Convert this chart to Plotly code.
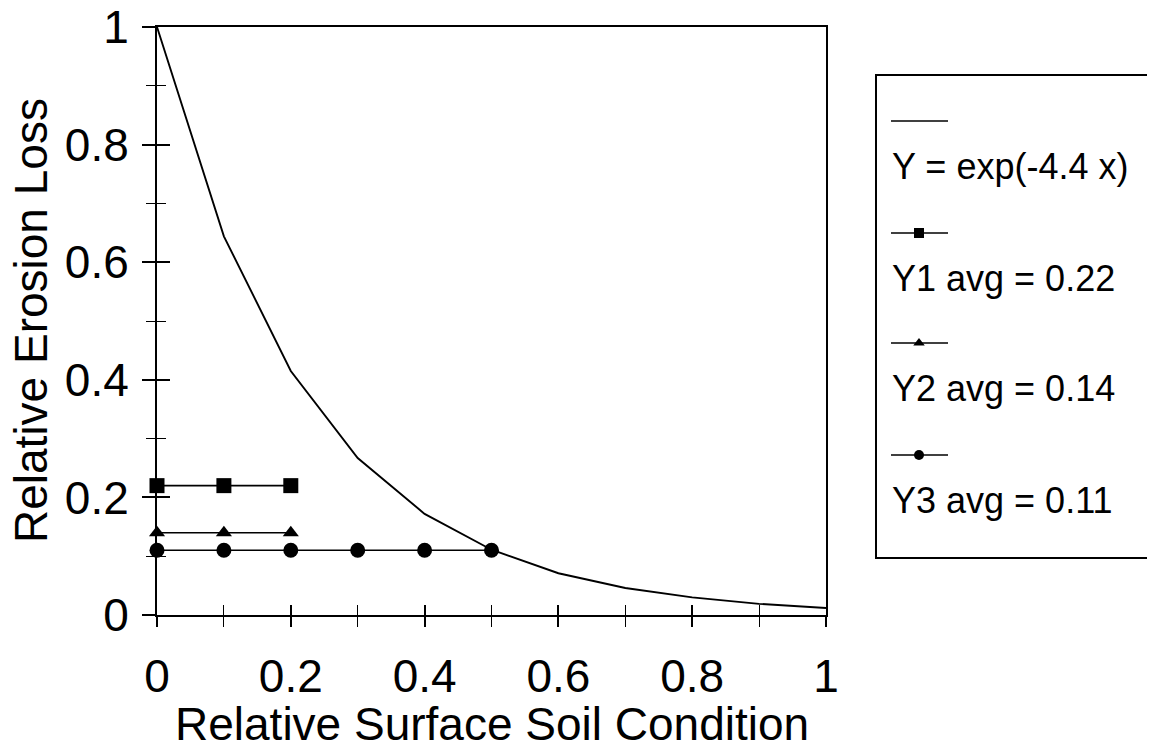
import plotly.graph_objects as go

# ---- data ----
curve_x = [0, 0.1, 0.2, 0.3, 0.4, 0.5, 0.6, 0.7, 0.8, 0.9, 1.0]
curve_y = [1.0, 0.644, 0.415, 0.267, 0.172, 0.111, 0.071, 0.046, 0.030, 0.019, 0.012]
y1_x = [0, 0.1, 0.2]
y1_y = [0.22, 0.22, 0.22]
y2_x = [0, 0.1, 0.2]
y2_y = [0.14, 0.14, 0.14]
y3_x = [0, 0.1, 0.2, 0.3, 0.4, 0.5]
y3_y = [0.11, 0.11, 0.11, 0.11, 0.11, 0.11]
series_names = ["Y = exp(-4.4 x)", "Y1 avg = 0.22", "Y2 avg = 0.14", "Y3 avg = 0.11"]
series_symbols = [None, "square", "triangle-up", "circle"]
x_title = "Relative Surface Soil Condition"
y_title = "Relative Erosion Loss"

FONT = "Liberation Sans, Arial, sans-serif"
OFF = 8                      # page body margin of the browser
W, H = 1155 - OFF, 752 - OFF
L, R, T = 157 - OFF, 0, 27 - OFF
B = H - (615 - OFF)
PW = W - L - R
PH = H - T - B
plot_right = 826 - OFF
main_dom = [0, (plot_right - L) / PW]

fig = go.Figure()

fig.add_trace(go.Scatter(x=curve_x, y=curve_y, mode="lines",
                         line=dict(color="black", width=1.9), cliponaxis=False,
                         showlegend=False))
fig.add_trace(go.Scatter(x=y1_x, y=y1_y, mode="lines+markers",
                         line=dict(color="black", width=1.6),
                         marker=dict(symbol="square", size=15, color="black"),
                         cliponaxis=False, showlegend=False))
fig.add_trace(go.Scatter(x=y2_x, y=y2_y, mode="lines+markers",
                         line=dict(color="black", width=1.6),
                         marker=dict(symbol="triangle-up", size=14, color="black"),
                         cliponaxis=False, showlegend=False))
fig.add_trace(go.Scatter(x=y3_x, y=y3_y, mode="lines+markers",
                         line=dict(color="black", width=1.6),
                         marker=dict(symbol="circle", size=15, color="black"),
                         cliponaxis=False, showlegend=False))

# ---- hand-made legend (symbol above text) on a hidden pixel-like axis ----
leg_left_px = 876 - OFF
sample_rows = [94, 206, 316, 428]       # offsets from plot top (px)
text_rows = [139, 251, 361, 473]
for name, sym, sy, ty in zip(series_names, series_symbols, sample_rows, text_rows):
    fig.add_trace(go.Scatter(x=[15, 72], y=[sy, sy], mode="lines",
                             line=dict(color="black", width=1.4),
                             xaxis="x2", yaxis="y2", showlegend=False,
                             hoverinfo="skip"))
    if sym:
        fig.add_trace(go.Scatter(x=[43], y=[sy], mode="markers",
                                 marker=dict(symbol=sym, size=10, color="black"),
                                 xaxis="x2", yaxis="y2", showlegend=False,
                                 hoverinfo="skip"))
    fig.add_annotation(x=14, y=ty, xref="x2", yref="y2", text=name,
                       showarrow=False, xanchor="left", yanchor="middle",
                       font=dict(family=FONT, size=36, color="black"))

leg_x0 = (leg_left_px - L) / PW
fig.add_shape(type="rect", xref="paper", yref="paper",
              x0=leg_x0, x1=1.05, y0=(615 - 558) / PH, y1=(615 - 75) / PH,
              line=dict(color="black", width=2))

axis_common = dict(range=[0, 1], showgrid=False, zeroline=False,
                   tickcolor="black", tickwidth=1.5, automargin=False)

fig.update_layout(
    width=W, height=H,
    margin=dict(l=L, r=R, t=T, b=B, autoexpand=False),
    paper_bgcolor="white", plot_bgcolor="white",
    font=dict(family=FONT, color="black"),
    xaxis=dict(domain=main_dom, tickmode="linear", tick0=0, dtick=0.2,
               ticks="outside", ticklen=10, showline=True, linecolor="black",
               linewidth=2, mirror=True, tickfont=dict(size=46, family=FONT),
               ticklabelstandoff=10, ticklabeloverflow="allow",
               minor=dict(dtick=0.1, ticks="outside", ticklen=10,
                          tickcolor="black", tickwidth=1.2),
               **axis_common),
    yaxis=dict(tickmode="linear", tick0=0, dtick=0.2,
               ticks="outside", ticklen=13, showline=True, linecolor="black",
               linewidth=2, mirror=True, tickfont=dict(size=46, family=FONT),
               ticklabelstandoff=4, ticklabeloverflow="allow",
               minor=dict(dtick=0.1, ticks="outside", ticklen=9,
                          tickcolor="black", tickwidth=1.2),
               **axis_common),
    xaxis3=dict(overlaying="x", matches="x", domain=main_dom, tickmode="linear",
                tick0=0, dtick=0.2, ticks="inside", ticklen=10,
                showticklabels=False, showline=False,
                minor=dict(dtick=0.1, ticks="inside", ticklen=10,
                           tickcolor="black", tickwidth=1.2),
                **axis_common),
    yaxis3=dict(overlaying="y", matches="y", tickmode="linear", tick0=0,
                dtick=0.2, ticks="inside", ticklen=13, showticklabels=False,
                showline=False,
                minor=dict(dtick=0.1, ticks="inside", ticklen=9,
                           tickcolor="black", tickwidth=1.2),
                **axis_common),
    xaxis2=dict(domain=[leg_x0, 1], range=[0, W - leg_left_px], visible=False,
                anchor="y2", automargin=False),
    yaxis2=dict(domain=[0, 1], range=[PH, 0], visible=False, anchor="x2",
                automargin=False),
)

# dummy invisible trace to activate the overlay tick axes
fig.add_trace(go.Scatter(x=[0], y=[0], xaxis="x3", yaxis="y3", mode="markers",
                         marker=dict(opacity=0), showlegend=False, hoverinfo="skip"))

fig.add_annotation(x=(main_dom[0] + main_dom[1]) / 2, y=(615 - 724) / PH,
                   xref="paper", yref="paper", text=x_title, showarrow=False,
                   xanchor="center", yanchor="middle",
                   font=dict(family=FONT, size=46, color="black"))
fig.add_annotation(x=(31 - 157) / PW, y=0.5, xref="paper", yref="paper",
                   text=y_title, showarrow=False, textangle=-90,
                   xanchor="center", yanchor="middle",
                   font=dict(family=FONT, size=46, color="black"))

fig.write_html("out.html")
